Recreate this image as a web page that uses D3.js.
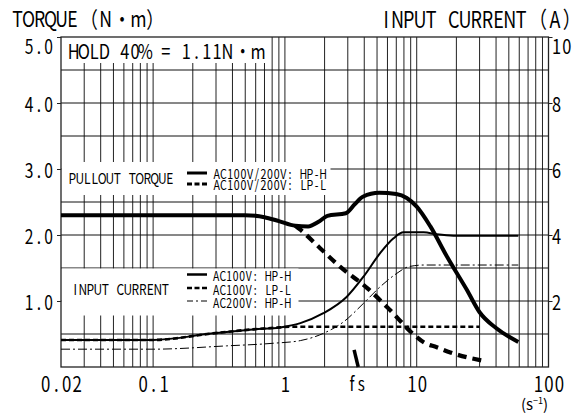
<!DOCTYPE html>
<html>
<head>
<meta charset="utf-8">
<script src="https://cdn.jsdelivr.net/npm/d3@7"></script>
<style>
  body { margin: 0; background: #fff; }
  text { font-family: "Noto Sans CJK JP", "DejaVu Sans", sans-serif; fill: #000; }
</style>
</head>
<body>
<div id="chart"></div>
<script>
// ---- data (speed in s^-1, torque in N·m, current in A) ----
var xTicks = [0.02, 0.1, 1, 10, 100];
var xTickLabels = ["0.02", "0.1", "1", "10", "100"];
var torqueTicks = [1, 2, 3, 4, 5];
var currentTicks = [2, 4, 6, 8, 10];
var fsSpeed = 3.5;

var pullHP_speed  = [0.02, 0.1, 0.5, 0.7, 0.9, 1.2, 1.5, 1.8, 2.1, 2.9, 3.4, 3.9, 5.2, 7.0, 8.4, 10, 12.7, 17, 24, 30, 40, 59];
var pullHP_torque = [2.3, 2.3, 2.3, 2.27, 2.21, 2.14, 2.13, 2.2, 2.29, 2.33, 2.47, 2.58, 2.64, 2.62, 2.56, 2.43, 2.13, 1.67, 1.17, 0.83, 0.59, 0.38];

var pullLP_speed  = [1.2, 1.31, 1.85, 2.62, 4.19, 6.3, 9.4, 11.4, 14.2, 18, 31];
var pullLP_torque = [2.14, 2.08, 1.8, 1.52, 1.2, 0.86, 0.5, 0.37, 0.3, 0.22, 0.1];

var curHP100_speed = [0.02, 0.1, 0.285, 0.57, 0.92, 1.31, 1.96, 2.95, 3.95, 5.28, 6.67, 7.94, 11.3, 14.2, 19, 59];
var curHP100_amp   = [0.82, 0.82, 1.02, 1.14, 1.2, 1.33, 1.63, 2.13, 2.74, 3.45, 3.9, 4.08, 4.08, 4.02, 3.98, 3.98];

var curLP100_speed = [0.02, 0.1, 0.285, 0.57, 0.92, 1.1, 30];
var curLP100_amp   = [0.82, 0.82, 1.02, 1.14, 1.2, 1.22, 1.22];

var curHP200_speed = [0.02, 0.1, 0.36, 0.82, 1.31, 1.96, 2.79, 3.95, 5.28, 7.08, 8.68, 11.3, 59];
var curHP200_amp   = [0.54, 0.54, 0.64, 0.72, 0.8, 1.02, 1.37, 1.93, 2.43, 2.84, 3.04, 3.09, 3.09];

// ---- layout ----
var W = 585, H = 414;
var L = 61, R = 548.5, T = 37, B = 367;

var svg = d3.select("#chart").append("svg")
  .attr("width", W).attr("height", H);

var x = d3.scaleLog().domain([0.02, 100]).range([L, R]);
var yT = d3.scaleLinear().domain([0, 5]).range([B, T]);
var yA = d3.scaleLinear().domain([0, 10]).range([B, T]);

// gothic mono look: half-width cells for ascii, full-width for the rest.
// one <text> per label, each glyph centred in its cell through an x list.
var SX = 0.8;
function mono(parent, str, px, py, size, anchor) {
  var chars = Array.from(str);
  var cells = chars.map(c => c.charCodeAt(0) < 0x7f ? size / 2 : size);
  var total = d3.sum(cells);
  var pos = anchor === "end" ? -total : anchor === "middle" ? -total / 2 : 0;
  var xs = [];
  cells.forEach(function (w) { xs.push(((pos + w / 2) / SX).toFixed(2)); pos += w; });
  return parent.append("text")
    .attr("transform", "translate(" + px + "," + py + ") scale(" + SX + ",1)")
    .attr("x", xs.join(" ")).attr("y", 0)
    .attr("font-size", size)
    .attr("text-anchor", "middle")
    .attr("xml:space", "preserve")
    .text(str);
}

// ---- grid ----
var grid = svg.append("g");
var vlines = x.ticks().filter(d => d > 0.021 && d < 99);
grid.selectAll(".v").data(vlines).enter().append("line")
  .attr("x1", d => x(d)).attr("x2", d => x(d))
  .attr("y1", T).attr("y2", B)
  .attr("stroke", "#222").attr("stroke-width", 1);
grid.selectAll(".h").data(d3.range(0.5, 5, 0.5)).enter().append("line")
  .attr("x1", L).attr("x2", R)
  .attr("y1", d => yT(d)).attr("y2", d => yT(d))
  .attr("stroke", "#111").attr("stroke-width", 1);

// white legend boxes cut the grid
svg.append("rect").attr("x", L).attr("y", T).attr("width", 207).attr("height", 26).attr("fill", "#fff");
svg.append("rect").attr("x", L + 0.5).attr("y", 162).attr("width", 269).attr("height", 33).attr("fill", "#fff");
svg.append("rect").attr("x", L + 0.5).attr("y", yT(1.5) + 0.5).attr("width", 237).attr("height", 315 - yT(1.5)).attr("fill", "#fff");

// frame
svg.append("rect").attr("x", L).attr("y", T).attr("width", R - L).attr("height", B - T)
  .attr("fill", "none").attr("stroke", "#222").attr("stroke-width", 1.3);

// ---- axes ----
var axL = svg.append("g").attr("transform", "translate(" + L + ",0)")
  .call(d3.axisLeft(yT).tickValues(torqueTicks).tickSize(4));
var axR = svg.append("g").attr("transform", "translate(" + R + ",0)")
  .call(d3.axisRight(yA).tickValues(currentTicks).tickSize(4));
var axB = svg.append("g").attr("transform", "translate(0," + B + ")")
  .call(d3.axisBottom(x).tickValues(xTicks).tickSize(0));
[axL, axR, axB].forEach(function (a) {
  a.select(".domain").remove();
  a.selectAll("line").attr("stroke", "#222");
  a.selectAll("text").remove();
});
axL.selectAll(".tick").each(function (d) {
  mono(d3.select(this), d3.format(".1f")(d), -7.5, d === 5 ? 16 : 8.7, 19.5, "end");
});
axR.selectAll(".tick").each(function (d) {
  mono(d3.select(this), String(d), 3, d === 10 ? 16 : 8.7, 20.5, "start");
});
axB.selectAll(".tick").each(function (d, i) {
  mono(d3.select(this), xTickLabels[i], 0, 25, 21, "middle");
});

// ---- curves ----
var lineT = d3.line().x(d => x(d[0])).y(d => yT(d[1])).curve(d3.curveMonotoneX);
var lineA = d3.line().x(d => x(d[0])).y(d => yA(d[1])).curve(d3.curveMonotoneX);

function series(xs, ys, gen, width, dash) {
  svg.append("path")
    .attr("d", gen(d3.zip(xs, ys)))
    .attr("fill", "none").attr("stroke", "#000")
    .attr("stroke-width", width)
    .attr("stroke-dasharray", dash || null)
    .attr("stroke-linejoin", "round");
}
series(curHP200_speed, curHP200_amp, lineA, 1, "9,3,2,3");
series(curHP100_speed, curHP100_amp, lineA, 2);
series(curLP100_speed, curLP100_amp, lineA, 2.6, "5,3");
series(pullHP_speed, pullHP_torque, lineT, 4);
series(pullLP_speed, pullLP_torque, lineT, 4.2, "9,6");

// fs marker
svg.append("line")
  .attr("x1", x(3.35)).attr("y1", yT(0.26))
  .attr("x2", x(3.6)).attr("y2", yT(0))
  .attr("stroke", "#000").attr("stroke-width", 3.5);
mono(svg, "fs", x(fsSpeed), B + 24, 19, "middle");

// ---- titles ----
mono(svg, "TORQUE（N・m）", 12, 27, 22, "start");
mono(svg, "INPUT CURRENT（A）", 583, 28, 22.5, "end");
mono(svg, "HOLD 40% = 1.11N・m", 68.5, 58.5, 20.5, "start");

// unit (s^-1)
var unit = svg.append("text").attr("x", 521).attr("y", 410).attr("font-size", 15);
unit.append("tspan").text("(s");
unit.append("tspan").attr("dy", -6).attr("font-size", 9).text("−1");
unit.append("tspan").attr("dy", 6).text(")");

// ---- legends ----
var lx1 = 187, lx2 = 207;
mono(svg, "PULLOUT TORQUE", 68.5, 183.5, 15, "start");
svg.append("line").attr("x1", lx1).attr("x2", lx2).attr("y1", 173).attr("y2", 173)
  .attr("stroke", "#000").attr("stroke-width", 3);
svg.append("line").attr("x1", lx1).attr("x2", lx2).attr("y1", 184).attr("y2", 184)
  .attr("stroke", "#000").attr("stroke-width", 3).attr("stroke-dasharray", "5,2.5");
mono(svg, "AC100V/200V: HP-H", 213.5, 178.5, 13.3, "start");
mono(svg, "AC100V/200V: LP-L", 213.5, 189.5, 13.3, "start");

mono(svg, "INPUT CURRENT", 71.5, 294.5, 15, "start");
svg.append("line").attr("x1", lx1).attr("x2", lx2).attr("y1", 274.5).attr("y2", 274.5)
  .attr("stroke", "#000").attr("stroke-width", 2.5);
svg.append("line").attr("x1", lx1).attr("x2", lx2).attr("y1", 288).attr("y2", 288)
  .attr("stroke", "#000").attr("stroke-width", 2.5).attr("stroke-dasharray", "5,2.5");
svg.append("line").attr("x1", lx1).attr("x2", lx2).attr("y1", 301).attr("y2", 301)
  .attr("stroke", "#000").attr("stroke-width", 1).attr("stroke-dasharray", "6,3,2,3");
mono(svg, "AC100V: HP-H", 213, 281, 13, "start");
mono(svg, "AC100V: LP-L", 213, 294.5, 13, "start");
mono(svg, "AC200V: HP-H", 213, 307.5, 13, "start");
</script>
</body>
</html>
